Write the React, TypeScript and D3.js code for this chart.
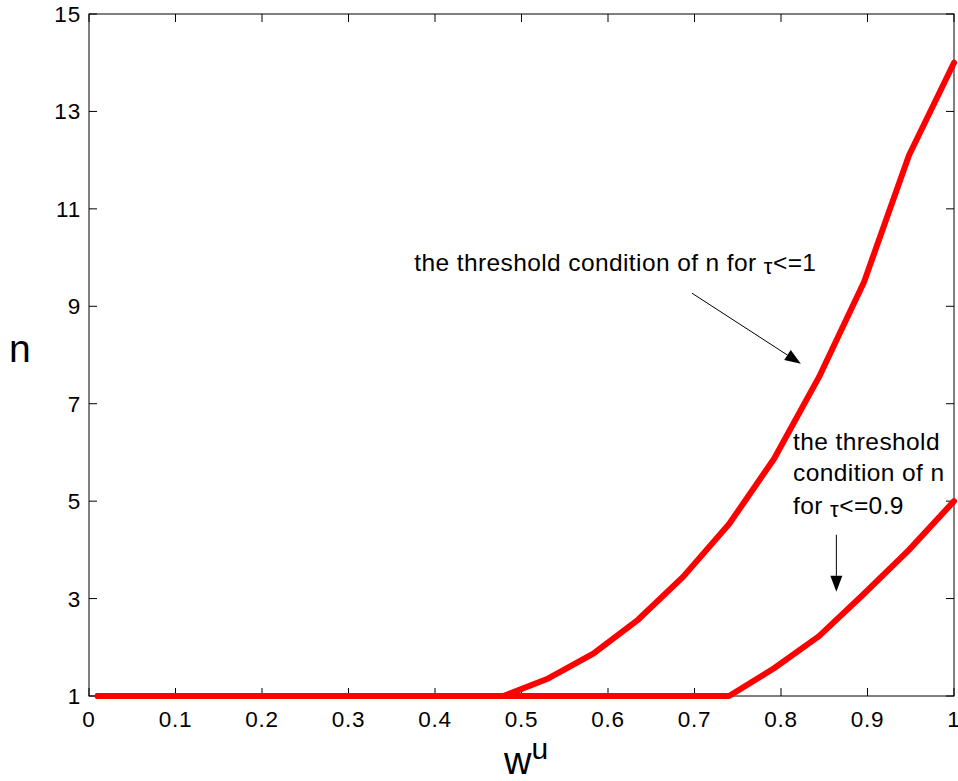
import React from 'react';
import * as d3 from 'd3';

// w^u samples and threshold n for the two tau bounds
const wu = [0.01, 0.062, 0.114, 0.166, 0.218, 0.271, 0.323, 0.375, 0.427, 0.479,
    0.531, 0.583, 0.635, 0.687, 0.740, 0.792, 0.844, 0.896, 0.948, 1.0];
const nTau1 = [1, 1, 1, 1, 1, 1, 1, 1, 1, 1,
    1.36, 1.87, 2.57, 3.45, 4.53, 5.87, 7.55, 9.5, 12.1, 14.0];
const nTau09 = [1, 1, 1, 1, 1, 1, 1, 1, 1, 1,
    1, 1, 1, 1, 1, 1.57, 2.23, 3.1, 4.0, 5.0];

const xTicks = [0, 0.1, 0.2, 0.3, 0.4, 0.5, 0.6, 0.7, 0.8, 0.9, 1];
const yTicks = [1, 3, 5, 7, 9, 11, 13, 15];

// annotation anchors in data units
const arrow1 = { from: [0.697, 9.27], to: [0.823, 7.82] };
const arrow2 = { from: [0.864, 4.31], to: [0.864, 3.14] };
const label1 = { x: 0.376, y: 9.72 };
const label2 = { x: 0.814, y: [6.06, 5.42, 4.73] };

const W = 958, H = 781;
const L = 89, R = 954, T = 14, B = 696;
const font = '"Liberation Sans", Arial, sans-serif';

function Arrow({ x1, y1, x2, y2 }: { x1: number; y1: number; x2: number; y2: number }) {
    const ang = Math.atan2(y2 - y1, x2 - x1);
    const len = 16, half = 6;
    const bx = x2 - len * Math.cos(ang), by = y2 - len * Math.sin(ang);
    const px = -Math.sin(ang) * half, py = Math.cos(ang) * half;
    const head = `M${x2},${y2}L${bx + px},${by + py}L${bx - px},${by - py}Z`;
    return (
        <g>
            <line x1={x1} y1={y1} x2={bx} y2={by} stroke="#000" strokeWidth={1} />
            <path d={head} fill="#000" />
        </g>
    );
}

export default function App() {
    const x = d3.scaleLinear().domain([0, 1]).range([L, R]);
    const y = d3.scaleLinear().domain([1, 15]).range([B, T]);
    const line = d3.line<number>().x((_, i) => x(wu[i])).y(d => y(d));

    return (
        <svg width={W} height={H} style={{ position: 'absolute', left: 0, top: 0, background: '#fff' }}
            fontFamily={font}>
            <rect x={L} y={T} width={R - L} height={B - T} fill="#fff" stroke="#000" strokeWidth={1} />
            {xTicks.map(t => (
                <g key={'x' + t}>
                    <line x1={x(t)} x2={x(t)} y1={B} y2={B - 8} stroke="#000" />
                    <line x1={x(t)} x2={x(t)} y1={T} y2={T + 8} stroke="#000" />
                    <text x={x(t)} y={727} fontSize={22.5} letterSpacing={0.8} textAnchor="middle">{t}</text>
                </g>
            ))}
            {yTicks.map(t => (
                <g key={'y' + t}>
                    <line x1={L} x2={L + 8} y1={y(t)} y2={y(t)} stroke="#000" />
                    <line x1={R} x2={R - 8} y1={y(t)} y2={y(t)} stroke="#000" />
                    <text x={81} y={y(t) + 8} fontSize={22.5} letterSpacing={0.8} textAnchor="end">{t}</text>
                </g>
            ))}

            <path d={line(nTau1) || ''} fill="none" stroke="#ff0000" strokeWidth={6}
                strokeLinejoin="round" strokeLinecap="round" />
            <path d={line(nTau09) || ''} fill="none" stroke="#ff0000" strokeWidth={6}
                strokeLinejoin="round" strokeLinecap="round" />

            <Arrow x1={x(arrow1.from[0])} y1={y(arrow1.from[1])} x2={x(arrow1.to[0])} y2={y(arrow1.to[1])} />
            <Arrow x1={x(arrow2.from[0])} y1={y(arrow2.from[1])} x2={x(arrow2.to[0])} y2={y(arrow2.to[1])} />

            <text x={x(label1.x)} y={y(label1.y)} fontSize={24.5} letterSpacing={0.4}>
                the threshold condition of n for <tspan fontSize={22} dy={3}>τ</tspan><tspan dy={-3}>&lt;=1</tspan>
            </text>
            <text x={x(label2.x)} y={y(label2.y[0])} fontSize={24.5} letterSpacing={0.4}>the threshold</text>
            <text x={x(label2.x)} y={y(label2.y[1])} fontSize={24.5} letterSpacing={0.4}>condition of n</text>
            <text x={x(label2.x)} y={y(label2.y[2])} fontSize={24.5} letterSpacing={0.4}>
                for <tspan fontSize={22} dy={3}>τ</tspan><tspan dy={-3}>&lt;=0.9</tspan>
            </text>

            <text x={9} y={362} fontSize={39}>n</text>
            <text x={504} y={774} fontSize={38}>w<tspan fontSize={30} dy={-15}>u</tspan></text>
        </svg>
    );
}
